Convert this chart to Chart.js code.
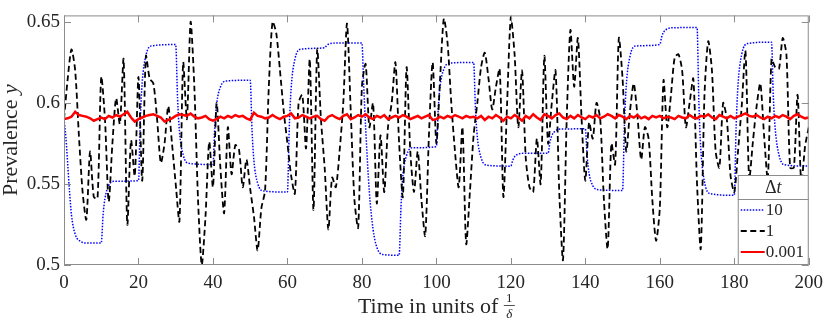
<!DOCTYPE html>
<html>
<head>
<meta charset="utf-8">
<script src="https://cdn.jsdelivr.net/npm/chart.js@4.4.0/dist/chart.umd.min.js"></script>
<style>
  body { margin: 0; background: #fff; }
  canvas { display: block; }
</style>
</head>
<body>
<canvas id="chart" width="830" height="321"></canvas>
<script>
// Prevalence over time for three step sizes
const xTicks = [0, 20, 40, 60, 80, 100, 120, 140, 160, 180, 200];
const yTicks = [0.5, 0.55, 0.6, 0.65];
const yTickLabels = ['0.5', '0.55', '0.6', '0.65'];
const legendLabels = ['10', '1', '0.001'];

// dt = 10 (blue dotted), read at the breakpoints of each 10-unit step
const blueT = [0, 0.5, 1, 1.5, 2, 3, 4.5, 6,
  10, 10.5, 11, 12, 13.5,
  20, 20.5, 21, 22, 23.5,
  30, 30.5, 31, 32, 33.5,
  40, 40.5, 41, 42, 43.5,
  50, 50.5, 51, 52, 53.5,
  60, 60.5, 61, 62, 63.5,
  70, 70.5, 71, 72, 73.5,
  80, 80.5, 81, 82, 83, 84, 85.5,
  90, 90.5, 91, 92, 93.5,
  100, 100.5, 101, 102, 103.5,
  110, 110.5, 111, 112, 113.5,
  120, 120.5, 121, 122, 123.5,
  130, 130.5, 131, 132, 133.5,
  140, 140.5, 141, 142, 143.5,
  150, 150.5, 151, 152, 153.5,
  160, 160.5, 161, 162, 163.5,
  170, 170.5, 171, 172, 173.5,
  180, 180.5, 181, 182, 183.5,
  190, 190.5, 191, 192, 193.5, 200];
const blueY = [0.590, 0.579, 0.562, 0.545, 0.531, 0.519, 0.5145, 0.5135,
  0.5135, 0.531, 0.541, 0.549, 0.5517,
  0.552, 0.590, 0.6125, 0.6293, 0.6352,
  0.636, 0.6027, 0.5827, 0.5679, 0.5627,
  0.562, 0.5854, 0.5994, 0.6098, 0.6135,
  0.614, 0.583, 0.5643, 0.5505, 0.5457,
  0.545, 0.585, 0.6091, 0.6269, 0.6331,
  0.634, 0.6354, 0.6362, 0.6368, 0.637,
  0.637, 0.610, 0.585, 0.545, 0.522, 0.511, 0.5065,
  0.506, 0.536, 0.555, 0.5676, 0.5723,
  0.573, 0.5964, 0.6104, 0.6208, 0.6245,
  0.625, 0.5962, 0.5789, 0.5662, 0.5616,
  0.561, 0.5646, 0.5668, 0.5684, 0.5689,
  0.569, 0.5758, 0.5798, 0.5828, 0.5839,
  0.584, 0.5669, 0.5566, 0.549, 0.5464,
  0.546, 0.5865, 0.6108, 0.6288, 0.6351,
  0.636, 0.6407, 0.6436, 0.6457, 0.6464,
  0.6465, 0.600, 0.572, 0.5513, 0.544,
  0.543, 0.5855, 0.611, 0.630, 0.6366,
  0.6375, 0.603, 0.5839, 0.5679, 0.5618, 0.561];

// dt = 1 (black dashed), one value per time unit, t = 0..200
const blackY = [0.590, 0.615, 0.633, 0.620, 0.580, 0.545, 0.528, 0.570, 0.542, 0.541, 0.616,
  0.590, 0.539, 0.575, 0.603, 0.587, 0.627, 0.525, 0.577, 0.555, 0.616,
  0.552, 0.629, 0.615, 0.612, 0.590, 0.563, 0.575, 0.598, 0.575, 0.550,
  0.527, 0.625, 0.590, 0.650, 0.610, 0.540, 0.500, 0.530, 0.576, 0.548,
  0.600, 0.560, 0.532, 0.585, 0.556, 0.574, 0.571, 0.548, 0.565, 0.547,
  0.530, 0.509, 0.535, 0.546, 0.610, 0.650, 0.643, 0.620, 0.595, 0.575,
  0.555, 0.544, 0.600, 0.605, 0.572, 0.627, 0.534, 0.633, 0.590, 0.560,
  0.522, 0.554, 0.548, 0.570, 0.600, 0.649, 0.595, 0.540, 0.523, 0.610,
  0.624, 0.585, 0.600, 0.538, 0.580, 0.545, 0.585, 0.600, 0.625, 0.575,
  0.542, 0.622, 0.570, 0.545, 0.570, 0.540, 0.518, 0.580, 0.625, 0.575,
  0.615, 0.652, 0.637, 0.600, 0.570, 0.548, 0.585, 0.513, 0.545, 0.580,
  0.600, 0.622, 0.631, 0.615, 0.596, 0.610, 0.621, 0.542, 0.600, 0.653,
  0.630, 0.585, 0.620, 0.566, 0.548, 0.545, 0.578, 0.550, 0.629, 0.575,
  0.600, 0.620, 0.545, 0.503, 0.590, 0.645, 0.610, 0.640, 0.590, 0.552,
  0.588, 0.578, 0.600, 0.590, 0.540, 0.510, 0.575, 0.562, 0.640, 0.615,
  0.570, 0.595, 0.612, 0.592, 0.565, 0.585, 0.578, 0.540, 0.515, 0.535,
  0.614, 0.585, 0.605, 0.628, 0.630, 0.620, 0.585, 0.600, 0.615, 0.550,
  0.510, 0.605, 0.638, 0.620, 0.570, 0.560, 0.600, 0.590, 0.555, 0.545,
  0.570, 0.598, 0.632, 0.553, 0.576, 0.598, 0.612, 0.580, 0.553, 0.627,
  0.622, 0.621, 0.640, 0.630, 0.560, 0.560, 0.605, 0.550, 0.573, 0.585];

// dt = 0.001 (red solid), one value per time unit, t = 0..200
const redY = [0.5900, 0.5905, 0.5915, 0.5945, 0.5925, 0.5920, 0.5915, 0.5905, 0.5890, 0.5900,
  0.5910, 0.5900, 0.5920, 0.5910, 0.5925, 0.5915, 0.5930, 0.5945, 0.5910, 0.5885,
  0.5900, 0.5910, 0.5920, 0.5925, 0.5930, 0.5920, 0.5910, 0.5885, 0.5895, 0.5905,
  0.5920, 0.5930, 0.5925, 0.5920, 0.5935, 0.5915, 0.5905, 0.5910, 0.5920, 0.5900,
  0.5890, 0.5900, 0.5915, 0.5905, 0.5920, 0.5910, 0.5925, 0.5915, 0.5920, 0.5905,
  0.5895, 0.5940, 0.5920, 0.5915, 0.5905, 0.5910, 0.5925, 0.5910, 0.5900, 0.5915,
  0.5920, 0.5935, 0.5905, 0.5910, 0.5925, 0.5915, 0.5905, 0.5915, 0.5920, 0.5900,
  0.5890, 0.5915, 0.5925, 0.5910, 0.5900, 0.5920, 0.5930, 0.5900, 0.5910, 0.5925,
  0.5915, 0.5930, 0.5910, 0.5900, 0.5920, 0.5910, 0.5925, 0.5900, 0.5910, 0.5920,
  0.5910, 0.5925, 0.5915, 0.5900, 0.5910, 0.5920, 0.5905, 0.5915, 0.5925, 0.5895,
  0.5900, 0.5915, 0.5905, 0.5920, 0.5910, 0.5925, 0.5915, 0.5905, 0.5920, 0.5910,
  0.5915, 0.5905, 0.5920, 0.5895, 0.5915, 0.5905, 0.5925, 0.5910, 0.5890, 0.5915,
  0.5905, 0.5925, 0.5910, 0.5890, 0.5920, 0.5905, 0.5930, 0.5910, 0.5895, 0.5930,
  0.5920, 0.5905, 0.5925, 0.5935, 0.5910, 0.5900, 0.5920, 0.5905, 0.5925, 0.5910,
  0.5900, 0.5920, 0.5910, 0.5925, 0.5905, 0.5915, 0.5930, 0.5920, 0.5905, 0.5925,
  0.5915, 0.5900, 0.5920, 0.5910, 0.5925, 0.5905, 0.5915, 0.5900, 0.5920, 0.5910,
  0.5920, 0.5905, 0.5915, 0.5910, 0.5900, 0.5920, 0.5910, 0.5905, 0.5925, 0.5910,
  0.5905, 0.5920, 0.5915, 0.5930, 0.5910, 0.5900, 0.5925, 0.5915, 0.5905, 0.5920,
  0.5905, 0.5915, 0.5925, 0.5935, 0.5920, 0.5915, 0.5925, 0.5910, 0.5900, 0.5915,
  0.5905, 0.5920, 0.5910, 0.5925, 0.5915, 0.5900, 0.5920, 0.5930, 0.5915, 0.5905,
  0.5910];

const SERIF = '"Liberation Serif", "Times New Roman", serif';
const TEXT = '#262626';
const FRAME = '#8c8c8c';

const series = [
  { color: '#0000ff', width: 1.5, dash: [1.5, 1.5] },
  { color: '#000000', width: 1.8, dash: [6, 3.5] },
  { color: '#ff0000', width: 2.5, dash: [] }
];

const overlay = {
  id: 'overlay',
  afterDatasetsDraw(chart) {
    const { ctx, chartArea: a, scales: { x, y } } = chart;
    ctx.save();

    // inward tick marks on all four sides
    ctx.strokeStyle = FRAME;
    ctx.lineWidth = 1;
    ctx.beginPath();
    xTicks.forEach(v => {
      const px = Math.round(x.getPixelForValue(v)) + 0.5;
      ctx.moveTo(px, a.bottom); ctx.lineTo(px, a.bottom - 7);
      ctx.moveTo(px, a.top); ctx.lineTo(px, a.top + 7);
    });
    yTicks.forEach(v => {
      const py = Math.round(y.getPixelForValue(v)) + 0.5;
      ctx.moveTo(a.left, py); ctx.lineTo(a.left + 7, py);
      ctx.moveTo(a.right, py); ctx.lineTo(a.right - 7, py);
    });
    ctx.stroke();
    ctx.strokeRect(a.left + 0.5, a.top + 0.5, a.width - 1, a.height - 1);

    // legend box
    const lx = a.right - 71, ly = a.bottom - 90, lw = 71, lh = 90;
    ctx.fillStyle = '#fff';
    ctx.fillRect(lx, ly, lw, lh);
    ctx.strokeRect(lx + 0.5, ly + 0.5, lw - 1, lh - 1);
    ctx.beginPath();
    ctx.moveTo(lx, ly + 24.5); ctx.lineTo(lx + lw, ly + 24.5);
    ctx.stroke();

    ctx.fillStyle = TEXT;
    ctx.textBaseline = 'middle';
    ctx.font = '18px ' + SERIF;
    const dW = ctx.measureText('Δ').width;
    ctx.font = 'italic 18px ' + SERIF;
    const tW = ctx.measureText('t').width;
    let tx = lx + lw / 2 - (dW + tW) / 2;
    ctx.font = '18px ' + SERIF;
    ctx.textAlign = 'left';
    ctx.fillText('Δ', tx, ly + 13);
    ctx.font = 'italic 18px ' + SERIF;
    ctx.fillText('t', tx + dW, ly + 13);

    ctx.font = '17px ' + SERIF;
    series.forEach((s, i) => {
      const yy = ly + 35 + i * 21;
      ctx.strokeStyle = s.color;
      ctx.lineWidth = Math.min(s.width, 2);
      ctx.setLineDash(s.dash);
      ctx.beginPath();
      ctx.moveTo(lx + 3, yy); ctx.lineTo(lx + 27, yy);
      ctx.stroke();
      ctx.setLineDash([]);
      ctx.fillText(legendLabels[i], lx + 28, yy + 1);
    });
    ctx.restore();
  },
  afterDraw(chart) {
    const { ctx, chartArea: a } = chart;
    ctx.save();
    ctx.fillStyle = TEXT;
    ctx.textBaseline = 'alphabetic';

    // x title with a stacked 1/delta fraction
    ctx.font = '22px ' + SERIF;
    const main = 'Time in units of ';
    const mW = ctx.measureText(main).width;
    const fW = 11;
    const cx = (a.left + a.right) / 2;
    const x0 = cx - (mW + fW) / 2;
    ctx.textAlign = 'left';
    ctx.fillText(main, x0, 313);
    ctx.textAlign = 'center';
    ctx.font = '13px ' + SERIF;
    ctx.fillText('1', x0 + mW + fW / 2, 302);
    ctx.font = 'italic 13px ' + SERIF;
    ctx.fillText('δ', x0 + mW + fW / 2, 318);
    ctx.strokeStyle = TEXT;
    ctx.lineWidth = 0.8;
    ctx.beginPath();
    ctx.moveTo(x0 + mW, 305.5); ctx.lineTo(x0 + mW + fW, 305.5);
    ctx.stroke();

    // y title
    ctx.translate(17, (a.top + a.bottom) / 2);
    ctx.rotate(-Math.PI / 2);
    ctx.font = '22px ' + SERIF;
    const p = 'Prevalence ';
    const pW = ctx.measureText(p).width;
    ctx.font = 'italic 22px ' + SERIF;
    const yW = ctx.measureText('y').width;
    ctx.textAlign = 'left';
    ctx.font = '22px ' + SERIF;
    ctx.fillText(p, -(pW + yW) / 2, 0);
    ctx.font = 'italic 22px ' + SERIF;
    ctx.fillText('y', -(pW + yW) / 2 + pW, 0);
    ctx.restore();
  }
};

new Chart(document.getElementById('chart'), {
  type: 'line',
  data: {
    datasets: [
      {
        label: legendLabels[2],
        data: redY.map((v, i) => ({ x: i, y: v })),
        borderColor: series[2].color, borderWidth: series[2].width,
        tension: 0, order: 0
      },
      {
        label: legendLabels[1],
        data: blackY.map((v, i) => ({ x: i, y: v })),
        borderColor: series[1].color, borderWidth: series[1].width, borderDash: series[1].dash,
        tension: 0.25, order: 1
      },
      {
        label: legendLabels[0],
        data: blueT.map((t, i) => ({ x: t, y: blueY[i] })),
        borderColor: series[0].color, borderWidth: series[0].width, borderDash: series[0].dash,
        cubicInterpolationMode: 'monotone', order: 2
      }
    ]
  },
  options: {
    responsive: false,
    animation: false,
    layout: { padding: { top: 1, right: 14, left: 0, bottom: 0 } },
    elements: { point: { radius: 0 } },
    plugins: { legend: { display: false }, tooltip: { enabled: false } },
    scales: {
      x: {
        type: 'linear', min: 0, max: 200,
        grid: { display: false, drawTicks: false },
        border: { display: false },
        afterBuildTicks: ax => { ax.ticks = xTicks.map(v => ({ value: v })); },
        afterFit: ax => { ax.height = 56; },
        ticks: { padding: 7, maxRotation: 0, autoSkip: false, color: TEXT, font: { family: SERIF, size: 19 } }
      },
      y: {
        type: 'linear', min: 0.5, max: 0.654,
        grid: { display: false, drawTicks: false },
        border: { display: false },
        afterBuildTicks: ax => { ax.ticks = yTicks.map(v => ({ value: v })); },
        afterFit: ax => { ax.width = 64; },
        ticks: {
          padding: 4, color: TEXT, font: { family: SERIF, size: 19 },
          callback: v => yTickLabels[yTicks.indexOf(v)]
        }
      }
    }
  },
  plugins: [overlay]
});
</script>
</body>
</html>
